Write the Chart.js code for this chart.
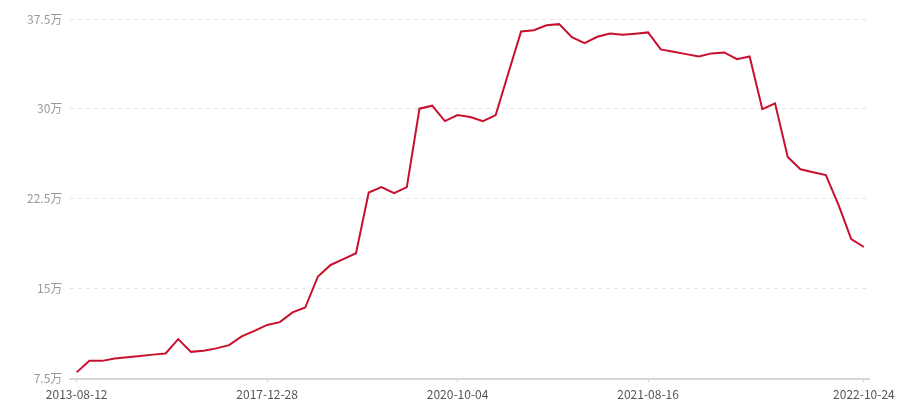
<!DOCTYPE html>
<html>
<head>
<meta charset="utf-8">
<script src="https://cdn.jsdelivr.net/npm/chart.js@4"></script>
<style>
    html, body { margin: 0; padding: 0; background: #fff; overflow: hidden; }
    #wrap { width: 900px; height: 400px; }
</style>
</head>
<body>
<div id="wrap"><canvas id="chart" width="900" height="400"></canvas></div>
<script>
// values in 万
const values = [
    8.02, 8.98, 8.98, 9.18, 9.29, 9.38, 9.5, 9.6, 10.79, 9.73,
    9.82, 10.02, 10.29, 11.02, 11.48, 11.98, 12.21, 13.02, 13.43, 16.02,
    16.98, 17.46, 17.96, 23.02, 23.48, 22.98, 23.48, 30.02, 30.27, 28.98,
    29.48, 29.32, 28.98, 29.48, 33.0, 36.46, 36.57, 36.98, 37.07, 35.98,
    35.48, 36.02, 36.29, 36.18, 36.27, 36.38, 34.96, 34.77, 34.57, 34.38,
    34.63, 34.71, 34.15, 34.38, 29.98, 30.46, 25.98, 24.96, 24.72, 24.48,
    22.0, 19.13, 18.48
]
const tickIndex = [0, 15, 30, 45, 62]
const tickLabels = ['2013-08-12', '2017-12-28', '2020-10-04', '2021-08-16', '2022-10-24']
const yTicks = [7.5, 15, 22.5, 30, 37.5]

const points = []
for (let i = 0; i < values.length; i++) {
    points.push({ x: i, y: values[i] })
}

const data = {
    datasets: [{
        label: '数值',
        data: points,
        borderColor: '#c8102e',
        borderWidth: 2,
        pointRadius: 0,
        tension: 0,
        fill: false
    }]
}

const config = {
    type: 'line',
    data: data,
    options: {
        responsive: false,
        animation: false,
        layout: { padding: { left: 19, right: 31, top: 19, bottom: 0 } },
        plugins: { legend: { display: false }, tooltip: { enabled: false } },
        scales: {
            x: {
                type: 'linear',
                min: -0.5,
                max: 62.4,
                afterBuildTicks: (axis) => {
                    axis.ticks = tickIndex.map(v => ({ value: v }))
                },
                afterFit: (axis) => {
                    axis.height -= 7
                },
                ticks: {
                    autoSkip: false,
                    maxRotation: 0,
                    color: '#555',
                    padding: 5,
                    font: { family: 'Noto Sans CJK SC', size: 12 },
                    callback: (v) => {
                        const k = tickIndex.indexOf(v)
                        return k >= 0 ? tickLabels[k] : ''
                    }
                },
                grid: { drawOnChartArea: false, drawTicks: true, tickLength: 4, color: '#d8d8d8' },
                border: { display: true, color: '#d8d8d8', width: 2 }
            },
            y: {
                min: 7.5,
                max: 37.5,
                afterBuildTicks: (axis) => {
                    axis.ticks = yTicks.map(v => ({ value: v }))
                },
                ticks: {
                    color: '#999',
                    padding: 8,
                    font: { family: 'Noto Sans CJK SC', size: 12 },
                    callback: (v) => v + '万'
                },
                grid: { color: '#e4e4e4', drawTicks: false },
                border: { display: false, dash: [4, 4] }
            }
        }
    }
}

const myChart = new Chart(document.getElementById('chart'), config)
</script>
</body>
</html>
